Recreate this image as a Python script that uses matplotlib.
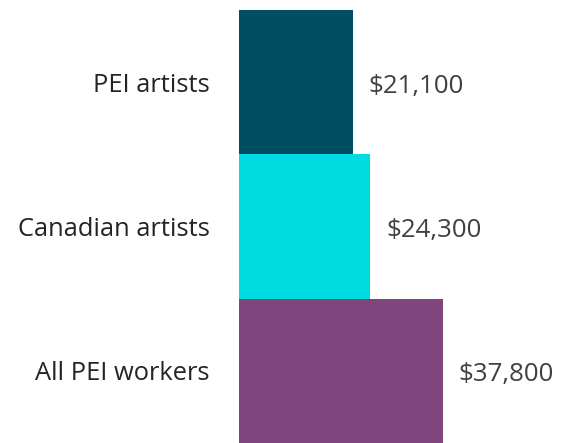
import matplotlib
matplotlib.use("Agg")
import matplotlib.pyplot as plt

categories = ["PEI artists", "Canadian artists", "All PEI workers"]
incomes = [21100, 24300, 37800]
value_labels = ["$21,100", "$24,300", "$37,800"]
colors = ["#004E62", "#00DCE2", "#81457D"]

W, H = 563, 443
fig = plt.figure(figsize=(W / 100, H / 100), dpi=100)
ax = fig.add_axes([239 / W, 0 / H, (W - 239) / W, 433 / H])

ypos = list(range(len(categories)))[::-1]
ax.barh(ypos, incomes, height=1.0, color=colors)

ax.set_xlim(0, 60100)
ax.set_ylim(-0.5, 2.5)
ax.set_yticks(ypos)
ax.set_yticklabels(categories, fontsize=18.4, color="#252423", family="Open Sans")
ax.tick_params(axis="y", length=0, pad=21)
ax.set_xticks([])
for s in ax.spines.values():
    s.set_visible(False)

# value labels sit a little below the bar centre in the original
for y, v, lab in zip(ypos, incomes, value_labels):
    ax.annotate(lab, (v, y), xytext=(16, -4), textcoords="offset pixels",
                va="center", ha="left", fontsize=18.6, color="#404040",
                family="Open Sans")

fig.savefig("out.png", dpi=100)
